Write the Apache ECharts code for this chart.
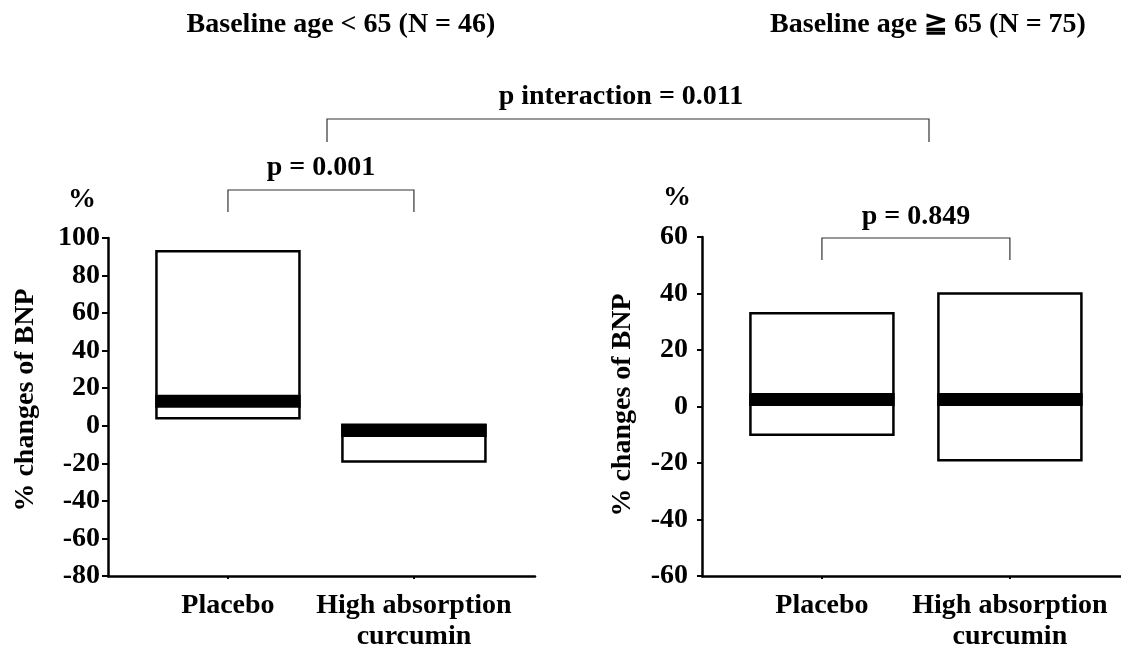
<!DOCTYPE html>
<html>
<head>
<meta charset="utf-8">
<script src="https://cdn.jsdelivr.net/npm/echarts@6/dist/echarts.min.js"></script>
<style>
html, body { margin: 0; padding: 0; background: #fff; }
#main { width: 1121px; height: 653px; }
</style>
</head>
<body>
<div id="main"></div>
<script>
// groups on the x axis (positions 1 and 2)
var groups = ['Placebo', 'High absorption\ncurcumin'];

// Baseline age < 65 : box top, box bottom, median (% change of BNP)
var youngTop = [93, 0.5];
var youngBottom = [4, -19];
var youngMedian = [13, -2.5];

// Baseline age >= 65
var oldTop = [33, 40];
var oldBottom = [-10, -19];
var oldMedian = [2.5, 2.5];

var youngRange = [-80, 100];
var oldRange = [-60, 60];

var FONT = "'Liberation Serif', 'Times New Roman', serif";

function boxData(top, bottom, median) {
	var res = [];
	for (var i = 0; i < top.length; i++) {
		res.push([i + 1, top[i], bottom[i], median[i]]);
	}
	return res;
}

function renderBox(params, api) {
	var x = api.value(0);
	var t = api.coord([x, api.value(1)]);
	var b = api.coord([x, api.value(2)]);
	var m = api.coord([x, api.value(3)]);
	var w = 143;
	return {
		type: 'group',
		children: [
			{
				type: 'rect',
				shape: { x: t[0] - w / 2, y: t[1], width: w, height: b[1] - t[1] },
				style: { fill: '#fff', stroke: '#000', lineWidth: 2.5 }
			},
			{
				type: 'rect',
				shape: { x: t[0] - w / 2 - 1.25, y: m[1] - 6.5, width: w + 2.5, height: 13 },
				style: { fill: '#000' }
			}
		]
	};
}

function xAxisOf(grid, min, max) {
	return {
		type: 'value',
		gridIndex: grid,
		min: min,
		max: max,
		splitLine: { show: false },
		axisLine: { onZero: false, lineStyle: { color: '#000', width: 2.5 } },
		axisTick: { show: true, customValues: [1, 2], length: 3, lineStyle: { color: '#000', width: 2 } },
		axisLabel: {
			customValues: [1, 2],
			margin: 14,
			color: '#000',
			fontFamily: FONT,
			fontWeight: 'bold',
			fontSize: 28,
			lineHeight: 31,
			formatter: function (v) { return groups[Math.round(v) - 1]; }
		}
	};
}

function yAxisOf(grid, range, margin, tick) {
	return {
		type: 'value',
		gridIndex: grid,
		min: range[0],
		max: range[1],
		interval: 20,
		splitLine: { show: false },
		axisLine: { show: true, onZero: false, lineStyle: { color: '#000', width: 2.5 } },
		axisTick: { show: true, length: tick, lineStyle: { color: '#000', width: 2 } },
		axisLabel: {
			margin: margin,
			color: '#000',
			fontFamily: FONT,
			fontWeight: 'bold',
			fontSize: 28
		}
	};
}

var myChart = echarts.init(document.getElementById('main'));

var option = {
	animation: false,
	backgroundColor: '#fff',
	grid: [
		{ left: 108, top: 238, width: 427, height: 338 },
		{ left: 702, top: 237, width: 419, height: 339 }
	],
	xAxis: [
		xAxisOf(0, 0.355, 2.651),
		xAxisOf(1, 0.362, 2.591)
	],
	yAxis: [
		yAxisOf(0, youngRange, 8, 6),
		yAxisOf(1, oldRange, 14, 5)
	],
	series: [
		{
			type: 'custom',
			xAxisIndex: 0,
			yAxisIndex: 0,
			renderItem: renderBox,
			data: boxData(youngTop, youngBottom, youngMedian)
		},
		{
			type: 'custom',
			xAxisIndex: 1,
			yAxisIndex: 1,
			renderItem: renderBox,
			data: boxData(oldTop, oldBottom, oldMedian)
		}
	]
};
myChart.setOption(option);    //载入图表

function txt(x, y, s, rot) {
	return {
		type: 'text',
		x: x,
		y: y,
		rotation: rot || 0,
		style: {
			text: s,
			fill: '#000',
			font: 'bold 28px ' + FONT,
			align: 'center',
			verticalAlign: 'middle'
		}
	};
}

function bracket(x1, x2, yTop, yBottom) {
	return {
		type: 'polyline',
		shape: { points: [[x1, yBottom], [x1, yTop], [x2, yTop], [x2, yBottom]] },
		style: { stroke: '#333', lineWidth: 1.2, fill: null }
	};
}

var l1 = myChart.convertToPixel({ xAxisIndex: 0 }, 1);
var l2 = myChart.convertToPixel({ xAxisIndex: 0 }, 2);
var r1 = myChart.convertToPixel({ xAxisIndex: 1 }, 1);
var r2 = myChart.convertToPixel({ xAxisIndex: 1 }, 2);

myChart.setOption({
	graphic: [
		txt(341, 25, 'Baseline age < 65 (N = 46)'),
		txt(928, 25, 'Baseline age ≧ 65 (N = 75)'),
		txt(621, 97, 'p interaction = 0.011'),
		bracket(327, 929, 119, 142),
		txt((l1 + l2) / 2, 168, 'p = 0.001'),
		bracket(l1, l2, 190, 212),
		txt((r1 + r2) / 2, 217, 'p = 0.849'),
		bracket(r1, r2, 238, 260),
		txt(82, 200, '%'),
		txt(677, 198, '%'),
		txt(26, 400, '% changes of BNP', Math.PI / 2),
		txt(623, 405, '% changes of BNP', Math.PI / 2)
	]
});
</script>
</body>
</html>
